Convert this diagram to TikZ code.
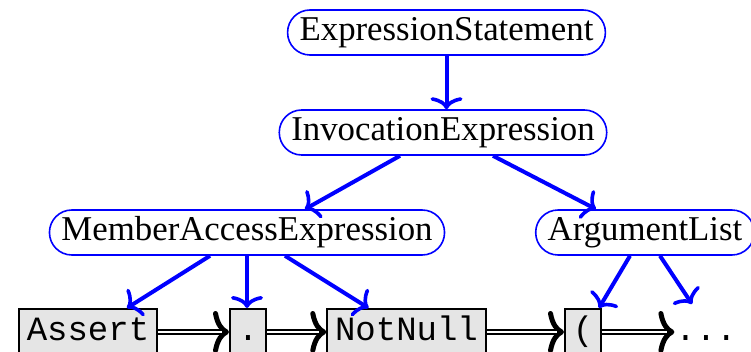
\documentclass[tikz,border=0pt]{standalone}
\usepackage{fontspec}
\setmainfont{Liberation Serif}
\setmonofont{Liberation Mono}
\usetikzlibrary{arrows.meta}
\definecolor{tokgray}{gray}{0.9}
\tikzset{
  synnode/.style={draw=blue, line width=0.8pt, rounded corners=11.2pt,
    inner xsep=6pt, inner ysep=3.25pt, text height=12pt, text depth=4pt,
    font=\fontsize{17.4}{20}\selectfont},
  token/.style={draw, fill=tokgray, line width=1pt, inner xsep=3.9pt,
    inner ysep=3.5pt, text height=12.5pt, text depth=3.5pt,
    font=\fontsize{17}{20}\selectfont\ttfamily},
  child/.style={blue, line width=2pt,
    -{Computer Modern Rightarrow[length=6pt,width=16pt,line width=1.8pt,round]}},
  % double line drawn by hand, so that the tip stays bold
  follows/.style={line width=3pt,
    -{Computer Modern Rightarrow[length=8pt,width=21pt,line width=2.5pt,round]},
    postaction={draw=white, line width=1pt, shorten >=3.5pt, -}}
}
\begin{document}
\begin{tikzpicture}[x=0.5pt, y=-0.5pt]
      \useasboundingbox (0, 0) rectangle (751, 352);
      \clip (0, 0) rectangle (751, 352);

      % Syntax nodes
      \node[synnode] (es) at (446.5, 32.5) {ExpressionStatement};
      \node[synnode] (ie) at (443, 132.5) {InvocationExpression};
      \node[synnode] (mae) at (247, 232.5) {MemberAccessExpression};
      \node[synnode] (al) at (645, 232.5) {ArgumentList};

      % Tokens
      \node[token] (assert) at (88, 332) {Assert};
      \node[token] (dot) at (248, 332) {.};
      \node[token] (notnull) at (406.5, 332) {NotNull};
      \node[token] (lpar) at (583, 332) {(};
      \node[token, draw=none, fill=none, inner xsep=0pt] (rest) at (706, 332) {...};

      % Tree edges
      \draw[child] (es.south) -- (es.south |- ie.north);
      \draw[child] ([xshift=-21.5pt]ie.south) -- ([xshift=29pt]mae.north);
      \draw[child] ([xshift=25pt]ie.south) -- ([xshift=-24.5pt]al.north);
      \draw[child] ([xshift=-18.5pt]mae.south) -- ([xshift=19.5pt]assert.north);
      \draw[child] (mae.south) -- (mae.south |- dot.north);
      \draw[child] ([xshift=19pt]mae.south) -- ([xshift=-19pt]notnull.north);
      \draw[child] ([xshift=-7.5pt]al.south) -- ([xshift=8pt]lpar.north);
      \draw[child] ([xshift=7.5pt]al.south) -- ([xshift=-7pt, yshift=2pt]rest.north);

      % Token sequence
      \draw[follows] (assert) -- (dot);
      \draw[follows] (dot) -- (notnull);
      \draw[follows] (notnull) -- (lpar);
      \draw[follows] (lpar) -- (rest);
    \end{tikzpicture}
\end{document}
